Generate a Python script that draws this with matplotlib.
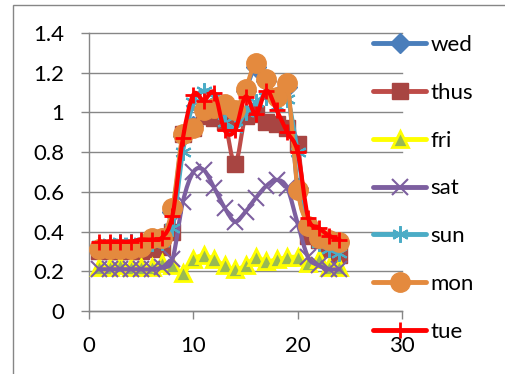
import matplotlib
matplotlib.use('Agg')
import matplotlib.pyplot as plt
from matplotlib.path import Path
from matplotlib.patches import PathPatch, Rectangle
from matplotlib.lines import Line2D

hours = list(range(1, 25))

wed = [0.31, 0.31, 0.31, 0.31, 0.32, 0.36, 0.37, 0.50, 0.88, 0.93, 1.02, 1.02, 1.03, 1.00, 1.11, 1.23,
       1.16, 1.08, 1.13, 0.62, 0.43, 0.37, 0.36, 0.35]
thus = [0.30, 0.30, 0.30, 0.30, 0.30, 0.31, 0.32, 0.40, 0.89, 0.92, 0.98, 0.97, 0.95, 0.74, 0.98, 0.99,
        0.95, 0.94, 0.92, 0.84, 0.38, 0.36, 0.31, 0.28]
fri = [0.22, 0.22, 0.23, 0.22, 0.22, 0.22, 0.24, 0.23, 0.19, 0.26, 0.28, 0.26, 0.23, 0.21, 0.23, 0.27,
       0.25, 0.26, 0.27, 0.27, 0.24, 0.26, 0.22, 0.22]
sat = [0.21, 0.21, 0.21, 0.21, 0.21, 0.21, 0.22, 0.26, 0.55, 0.70, 0.71, 0.62, 0.52, 0.45, 0.50, 0.57,
       0.63, 0.66, 0.62, 0.44, 0.27, 0.23, 0.21, 0.21]
sun = [0.33, 0.34, 0.35, 0.35, 0.35, 0.34, 0.35, 0.42, 0.80, 1.05, 1.11, 1.08, 0.95, 0.92, 1.00, 1.05,
       1.08, 1.03, 1.07, 0.80, 0.42, 0.34, 0.31, 0.29]
mon = [0.31, 0.31, 0.31, 0.31, 0.32, 0.37, 0.37, 0.52, 0.89, 0.92, 1.01, 1.02, 1.04, 1.01, 1.12, 1.25,
       1.17, 1.08, 1.15, 0.61, 0.43, 0.37, 0.36, 0.35]
tue = [0.35, 0.35, 0.35, 0.35, 0.36, 0.36, 0.37, 0.48, 0.87, 1.09, 1.06, 1.10, 0.91, 0.91, 1.08, 0.99,
       1.11, 1.01, 0.90, 0.80, 0.47, 0.42, 0.38, 0.36]

names = ['wed', 'thus', 'fri', 'sat', 'sun', 'mon', 'tue']
series = [wed, thus, fri, sat, sun, mon, tue]

# line colour, marker, marker face, marker edge, marker size, marker edge width
styles = {
    'wed': ('#4A7EBB', 'D', '#4A7EBB', '#4A7EBB', 10, 1),
    'thus': ('#BE4B48', 's', '#A84542', '#A84542', 12, 1),
    'fri': ('#FFFF00', '^', '#98B954', '#FFFF00', 12, 2),
    'sat': ('#7D5FA0', 'x', 'none', '#7D5FA0', 11, 1.5),
    'sun': ('#4BACC6', (6, 2, 0), 'none', '#4BACC6', 12, 1.5),
    'mon': ('#E48A3E', 'o', '#E48A3E', '#E48A3E', 14, 1),
    'tue': ('#FF0000', '+', 'none', '#FF0000', 12, 2),
}

plt.rcParams['font.family'] = ['Lato', 'DejaVu Sans']
FS = 16


def smooth_path(xs, ys):
    # excel-like smoothed line: cubic bezier through every point
    pts = list(zip(xs, ys))
    n = len(pts)
    verts = [pts[0]]
    codes = [Path.MOVETO]
    for i in range(n - 1):
        p0 = pts[max(i - 1, 0)]
        p1 = pts[i]
        p2 = pts[i + 1]
        p3 = pts[min(i + 2, n - 1)]
        c1 = (p1[0] + (p2[0] - p0[0]) / 6, p1[1] + (p2[1] - p0[1]) / 6)
        c2 = (p2[0] - (p3[0] - p1[0]) / 6, p2[1] - (p3[1] - p1[1]) / 6)
        verts += [c1, c2, p2]
        codes += [Path.CURVE4] * 3
    return Path(verts, codes)


fig = plt.figure(figsize=(5.05, 3.74), dpi=100)
ax = fig.add_axes([89 / 505, 63 / 374, 313 / 505, 278 / 374])

handles = []
for k, (name, vals) in enumerate(zip(names, series)):
    col, mk, mfc, mec, ms, mew = styles[name]
    ax.add_patch(PathPatch(smooth_path(hours, vals), facecolor='none', edgecolor=col, lw=3,
                           capstyle='round', joinstyle='round', zorder=3 + 2 * k))
    ax.plot(hours, vals, linestyle='none', marker=mk, markersize=ms, markerfacecolor=mfc,
            markeredgecolor=mec, markeredgewidth=mew, zorder=4 + 2 * k)
    handles.append(Line2D([], [], color=col, lw=3.5, solid_capstyle='round', marker=mk, markersize=ms,
                          markerfacecolor=mfc, markeredgecolor=mec, markeredgewidth=mew))

ax.set_xlim(0, 30)
ax.set_ylim(0, 1.4)
ax.set_xticks([0, 10, 20, 30])
ax.set_yticks([0, 0.2, 0.4, 0.6, 0.8, 1.0, 1.2, 1.4])
ax.set_yticklabels(['0', '0.2', '0.4', '0.6', '0.8', '1', '1.2', '1.4'])
ax.grid(axis='y', color='#868686', lw=1)
ax.set_axisbelow(True)
for side in ['top', 'right']:
    ax.spines[side].set_visible(False)
for side in ['left', 'bottom']:
    ax.spines[side].set_color('#868686')
    ax.spines[side].set_linewidth(1)
ax.tick_params(axis='both', direction='out', length=6, width=1, color='#868686',
               labelsize=FS, labelcolor='black')
ax.tick_params(axis='y', pad=12)
ax.tick_params(axis='x', pad=12)
for g in ax.get_ygridlines():
    g.set_clip_on(False)

ax.legend(handles, names, loc='upper left', bbox_to_anchor=(373 / 505, 1 - 35 / 374),
          bbox_transform=fig.transFigure, frameon=False, fontsize=FS, handlelength=2.4,
          handletextpad=0.2, labelspacing=1.25, borderpad=0, borderaxespad=0)

fig.patches.append(Rectangle((13 / 505, -0.1), 1.0, 1.1 - 5 / 374, transform=fig.transFigure,
                             fill=False, edgecolor='#868686', lw=1))

fig.savefig('out.png', dpi=100)
